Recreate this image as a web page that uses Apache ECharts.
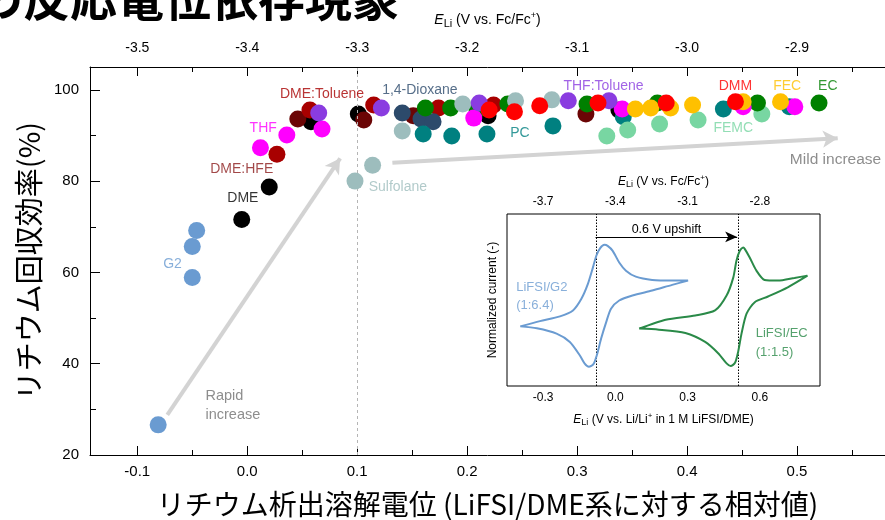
<!DOCTYPE html>
<html>
<head>
<meta charset="utf-8">
<style>
  html, body { margin: 0; padding: 0; background: #fff; }
  #main { width: 885px; height: 520px; }
</style>
<script src="https://cdn.jsdelivr.net/npm/echarts@6.0.0/dist/echarts.min.js"></script>
</head>
<body>
<div id="main"></div>
<script>
// ---- axes of the main scatter plot ----
const xRange = [-0.143, 0.58];          // Li plating/stripping potential vs. LiFSI/DME (V)
const yRange = [20, 105];               // Li Coulombic efficiency (%)
const xTicks = [-0.1, 0.0, 0.1, 0.2, 0.3, 0.4, 0.5];
const xMinorTicks = [-0.05, 0.05, 0.15, 0.25, 0.35, 0.45, 0.55];
const fcOffset = -3.4;                  // E_Li vs. Fc/Fc+ = relative value - 3.4 V
const fcTicks = [-3.5, -3.4, -3.3, -3.2, -3.1, -3.0, -2.9];
const fcMinorTicks = [-3.45, -3.35, -3.25, -3.15, -3.05, -2.95, -2.85];
const yTicks = [20, 40, 60, 80, 100];
const yMinorTicks = [30, 50, 70, 90];

// ---- electrolytes: [relative potential (V), Coulombic efficiency (%)] ----
const g2         = [[-0.046, 69.2], [-0.05, 65.7], [-0.05, 58.9], [-0.081, 26.6]];
const dme        = [[-0.005, 71.6], [0.020, 78.7], [0.058, 93.0], [0.101, 94.7], [0.219, 94.3], [0.338, 95.6]];
const dmeToluene = [[0.046, 93.6], [0.106, 93.4], [0.151, 94.3], [0.308, 94.7]];
const dmeHfe     = [[0.027, 85.9], [0.057, 95.6], [0.115, 96.7], [0.174, 96.0], [0.224, 96.7]];
const dioxane    = [[0.141, 94.9], [0.158, 93.6], [0.169, 93.0]];
const pc         = [[0.160, 90.3], [0.186, 89.9], [0.218, 90.3], [0.278, 92.1], [0.342, 94.1], [0.433, 95.8], [0.493, 96.3]];
const femc       = [[0.327, 89.9], [0.346, 91.2], [0.375, 92.5], [0.410, 93.4], [0.468, 94.7]];
const ec         = [[0.162, 96.0], [0.185, 96.0], [0.209, 95.6], [0.237, 96.9], [0.309, 96.9], [0.373, 97.1], [0.464, 97.1], [0.520, 97.1]];
const sulfolane  = [[0.098, 80.0], [0.114, 83.5], [0.141, 91.0], [0.196, 96.9], [0.244, 97.6], [0.277, 97.8]];
const thf        = [[0.012, 87.3], [0.036, 90.1], [0.068, 91.4], [0.206, 93.8], [0.341, 95.8], [0.451, 96.3], [0.498, 96.3]];
const thfToluene = [[0.065, 94.9], [0.122, 96.0], [0.211, 97.1], [0.292, 97.6], [0.329, 97.6]];
const fec        = [[0.353, 95.8], [0.367, 96.0], [0.385, 96.0], [0.405, 96.7], [0.451, 97.4], [0.485, 97.4]];
const dmm        = [[0.220, 95.6], [0.243, 95.2], [0.266, 96.5], [0.319, 97.1], [0.381, 97.1], [0.444, 97.4]];

// ---- inset: cyclic voltammograms [E_Li vs. Li/Li+ in 1 M LiFSI/DME (V), normalized current] ----
const insetX = [-0.45, 0.85];
const insetY = [-1.5, 1.5];
const insetTicks = [-0.3, 0.0, 0.3, 0.6];
const insetMinorTicks = [-0.15, 0.15, 0.45, 0.75];
const insetFcTicks = [-3.7, -3.4, -3.1, -2.8];
const insetFcMinorTicks = [-3.55, -3.25, -2.95, -2.65];
const cvG2 = [
  [-0.395, -0.46], [-0.326, -0.494], [-0.244, -0.586], [-0.189, -0.732], [-0.148, -0.963],
  [-0.128, -1.106], [-0.110, -1.165], [-0.091, -1.118], [-0.077, -0.963], [-0.059, -0.673],
  [-0.038, -0.385], [-0.018, -0.153], [0.016, -0.009], [0.071, 0.078], [0.153, 0.165],
  [0.236, 0.264], [0.302, 0.338], [0.236, 0.338], [0.153, 0.350], [0.085, 0.407],
  [0.044, 0.512], [0.016, 0.655], [-0.011, 0.858], [-0.032, 0.945], [-0.045, 0.962],
  [-0.063, 0.905], [-0.079, 0.772], [-0.093, 0.569], [-0.114, 0.281], [-0.141, 0.021],
  [-0.176, -0.182], [-0.230, -0.286], [-0.313, -0.368], [-0.395, -0.46]
];
const cvEC = [
  [0.099, -0.499], [0.181, -0.517], [0.291, -0.576], [0.373, -0.732], [0.428, -0.933],
  [0.462, -1.106], [0.479, -1.153], [0.497, -1.096], [0.510, -0.905], [0.524, -0.586],
  [0.545, -0.239], [0.579, -0.038], [0.634, 0.061], [0.716, 0.222], [0.798, 0.425],
  [0.744, 0.385], [0.675, 0.338], [0.620, 0.350], [0.586, 0.512], [0.558, 0.742],
  [0.538, 0.888], [0.531, 0.916], [0.517, 0.858], [0.503, 0.685], [0.490, 0.395],
  [0.462, 0.078], [0.414, -0.182], [0.332, -0.269], [0.209, -0.343], [0.099, -0.499]
];
const cvPeakG2 = -0.082;   // onset marker of LiFSI/G2
const cvPeakEC = 0.506;    // onset marker of LiFSI/EC

const SANS = '"Liberation Sans", Arial, sans-serif';
const NARROW = '"Liberation Sans Narrow", "Liberation Sans", Arial, sans-serif';
const JP = '"Noto Sans CJK JP", sans-serif';

const electrolytes = [
  { name: 'DME', data: dme, color: '#000000' },
  { name: 'DME:Toluene', data: dmeToluene, color: '#6b0505' },
  { name: 'DME:HFE', data: dmeHfe, color: '#a80000' },
  { name: '1,4-Dioxane', data: dioxane, color: '#2c4a6b' },
  { name: 'PC', data: pc, color: '#008080' },
  { name: 'FEMC', data: femc, color: '#78d6a2' },
  { name: 'EC', data: ec, color: '#008000' },
  { name: 'Sulfolane', data: sulfolane, color: '#9dbdbd' },
  { name: 'THF', data: thf, color: '#ff00ff' },
  { name: 'THF:Toluene', data: thfToluene, color: '#8a3ce0' },
  { name: 'FEC', data: fec, color: '#ffc000' },
  { name: 'DMM', data: dmm, color: '#ff0000' },
  { name: 'G2', data: g2, color: '#6a9bd1' }
];

// Series labels placed in data space
const tags = [
  { text: 'G2', at: [-0.068, 61.8], color: '#6a9bd1' },
  { text: 'DME', at: [-0.004, 76.3], color: '#000000' },
  { text: 'DME:HFE', at: [-0.005, 82.6], color: '#8b1a1a' },
  { text: 'THF', at: [0.0145, 91.6], color: '#ff00ff' },
  { text: 'DME:Toluene', at: [0.068, 99.1], color: '#a80000' },
  { text: '1,4-Dioxane', at: [0.157, 100.0], color: '#2c4a6b' },
  { text: 'PC', at: [0.248, 90.5], color: '#008080' },
  { text: 'Sulfolane', at: [0.137, 78.7], color: '#9dbdbd' },
  { text: 'THF:Toluene', at: [0.324, 100.7], color: '#8a3ce0' },
  { text: 'DMM', at: [0.444, 100.7], color: '#ff0000' },
  { text: 'FEC', at: [0.491, 100.7], color: '#ffc000' },
  { text: 'EC', at: [0.528, 100.7], color: '#008000' },
  { text: 'FEMC', at: [0.442, 91.6], color: '#78d6a2' }
];

const eliRich = {
  e: { fontStyle: 'italic', fontFamily: SANS, fontSize: 14, color: '#000' },
  s: { fontFamily: SANS, fontSize: 11, color: '#000', padding: [7, 0, 0, 0] },
  p: { fontFamily: SANS, fontSize: 9, color: '#000', padding: [0, 0, 8, 0] }
};
const eliRichSmall = {
  e: { fontStyle: 'italic', fontFamily: SANS, fontSize: 12, color: '#000' },
  s: { fontFamily: SANS, fontSize: 9, color: '#000', padding: [6, 0, 0, 0] },
  p: { fontFamily: SANS, fontSize: 8, color: '#000', padding: [0, 0, 7, 0] }
};

function tickAxis(opts) {
  return Object.assign({
    type: 'value',
    splitLine: { show: false },
    axisLine: { show: false, onZero: false },
    axisLabel: { show: false },
    axisTick: { show: false }
  }, opts);
}

const chart = echarts.init(document.getElementById('main'), null, { renderer: 'canvas' });

const option = {
  animation: false,
  backgroundColor: '#ffffff',
  grid: [
    { left: 90, right: 0, top: 67, bottom: 65, outerBoundsMode: 'none' },
    { left: 507, top: 214, width: 313, height: 172, show: true, backgroundColor: '#ffffff',
      borderColor: '#000', borderWidth: 1, outerBoundsMode: 'none', z: 5 }
  ],
  xAxis: [
    // 0: main, bottom
    tickAxis({
      gridIndex: 0, position: 'bottom', min: xRange[0], max: xRange[1],
      axisLine: { show: true, onZero: false, lineStyle: { color: '#000', width: 1 } },
      axisTick: { show: true, inside: true, length: 9, customValues: xTicks, lineStyle: { color: '#000' } },
      axisLabel: { show: true, customValues: xTicks, margin: 9, fontFamily: NARROW, fontSize: 15, color: '#000',
        formatter: v => v.toFixed(1) },
      name: 'リチウム析出溶解電位 (LiFSI/DME系に対する相対値)', nameLocation: 'middle', nameGap: 35,
      nameTextStyle: { fontFamily: JP, fontSize: 28, color: '#000' }
    }),
    // 1: main, top (vs. Fc/Fc+)
    tickAxis({
      gridIndex: 0, position: 'top', min: xRange[0] + fcOffset, max: xRange[1] + fcOffset,
      axisLine: { show: true, onZero: false, lineStyle: { color: '#000', width: 1 } },
      axisTick: { show: true, inside: true, length: 9, customValues: fcTicks, lineStyle: { color: '#000' } },
      axisLabel: { show: true, customValues: fcTicks, margin: 12, fontFamily: SANS, fontSize: 14, color: '#000',
        formatter: v => v.toFixed(1) },
      name: '{e|E}{s|Li} (V vs. Fc/Fc{p|+})', nameLocation: 'middle', nameGap: 38,
      nameTextStyle: { fontFamily: SANS, fontSize: 14, color: '#000', rich: eliRich }
    }),
    // 2, 3: main minor ticks
    tickAxis({ gridIndex: 0, position: 'bottom', min: xRange[0], max: xRange[1],
      axisTick: { show: true, inside: true, length: 5, customValues: xMinorTicks, lineStyle: { color: '#000' } } }),
    tickAxis({ gridIndex: 0, position: 'top', min: xRange[0] + fcOffset, max: xRange[1] + fcOffset,
      axisTick: { show: true, inside: true, length: 5, customValues: fcMinorTicks, lineStyle: { color: '#000' } } }),
    // 4: inset, bottom
    tickAxis({
      gridIndex: 1, position: 'bottom', min: insetX[0], max: insetX[1],
      axisTick: { show: true, inside: true, length: 6, customValues: insetTicks, lineStyle: { color: '#000' } },
      axisLabel: { show: true, customValues: insetTicks, margin: 6, fontFamily: SANS, fontSize: 12, color: '#000',
        formatter: v => v.toFixed(1) },
      name: '{e|E}{s|Li} (V vs. Li/Li{p|+} in 1 M LiFSI/DME)', nameLocation: 'middle', nameGap: 26,
      nameTextStyle: { fontFamily: SANS, fontSize: 12, color: '#000', rich: eliRichSmall }
    }),
    // 5: inset, top
    tickAxis({
      gridIndex: 1, position: 'top', min: insetX[0] + fcOffset, max: insetX[1] + fcOffset,
      axisTick: { show: true, inside: true, length: 6, customValues: insetFcTicks, lineStyle: { color: '#000' } },
      axisLabel: { show: true, customValues: insetFcTicks, margin: 6, fontFamily: SANS, fontSize: 12, color: '#000',
        formatter: v => v.toFixed(1) },
      name: '{e|E}{s|Li} (V vs. Fc/Fc{p|+})', nameLocation: 'middle', nameGap: 25,
      nameTextStyle: { fontFamily: SANS, fontSize: 12, color: '#000', rich: eliRichSmall }
    }),
    // 6, 7: inset minor ticks
    tickAxis({ gridIndex: 1, position: 'bottom', min: insetX[0], max: insetX[1],
      axisTick: { show: true, inside: true, length: 3, customValues: insetMinorTicks, lineStyle: { color: '#000' } } }),
    tickAxis({ gridIndex: 1, position: 'top', min: insetX[0] + fcOffset, max: insetX[1] + fcOffset,
      axisTick: { show: true, inside: true, length: 3, customValues: insetFcMinorTicks, lineStyle: { color: '#000' } } })
  ],
  yAxis: [
    // 0: main efficiency axis
    tickAxis({
      gridIndex: 0, position: 'left', min: yRange[0], max: yRange[1],
      axisLine: { show: true, onZero: false, lineStyle: { color: '#000', width: 1 } },
      axisTick: { show: true, inside: true, length: 10, customValues: yTicks, lineStyle: { color: '#000' } },
      axisLabel: { show: true, customValues: yTicks, margin: 11, fontFamily: SANS, fontSize: 15, color: '#000' },
      name: 'リチウム回収効率(%)', nameLocation: 'middle', nameGap: 42,
      nameTextStyle: { fontFamily: JP, fontSize: 29, color: '#000' }
    }),
    // 1: main minor ticks
    tickAxis({ gridIndex: 0, position: 'left', min: yRange[0], max: yRange[1],
      axisTick: { show: true, inside: true, length: 6, customValues: yMinorTicks, lineStyle: { color: '#000' } } }),
    // 2: inset current axis
    tickAxis({
      gridIndex: 1, position: 'left', min: insetY[0], max: insetY[1],
      name: 'Normalized current (-)', nameLocation: 'middle', nameGap: 8,
      nameTextStyle: { fontFamily: SANS, fontSize: 12, color: '#000' }
    })
  ],
  series: [
    // guide line, trend arrows and free text of the main plot
    {
      type: 'scatter', xAxisIndex: 0, yAxisIndex: 0, silent: true, z: 1,
      symbolSize: 1, itemStyle: { color: 'transparent' },
      data: [
        { value: [-0.038, 30.9], label: { show: true, position: 'inside', align: 'left',
          formatter: 'Rapid\nincrease', color: '#707070', fontFamily: SANS, fontSize: 14.5, lineHeight: 19 } },
        { value: [0.535, 84.6], label: { show: true, position: 'inside',
          formatter: 'Mild increase', color: '#707070', fontFamily: SANS, fontSize: 15.5 } }
      ],
      markLine: {
        silent: true, animation: false,
        label: { show: false },
        data: [
          [{ coord: [0.1, yRange[0]], symbol: 'none', lineStyle: { color: '#b5b5b5', width: 1, type: [3, 3] } },
           { coord: [0.1, yRange[1]], symbol: 'none' }],
          [{ coord: [-0.0727, 28.8], symbol: 'none', lineStyle: { color: '#d3d3d3', width: 4, type: 'solid' } },
           { coord: [0.0845, 85.0], symbol: 'arrow', symbolSize: [13, 15] }],
          [{ coord: [0.132, 84.0], symbol: 'none', lineStyle: { color: '#d3d3d3', width: 4, type: 'solid' } },
           { coord: [0.537, 89.4], symbol: 'arrow', symbolSize: [13, 15] }]
        ]
      }
    },
    ...electrolytes.map((s, i) => ({
      name: s.name, type: 'scatter', xAxisIndex: 0, yAxisIndex: 0, z: 2 + i,
      symbol: 'circle', symbolSize: 17,
      itemStyle: { color: s.color, opacity: 1 },
      data: s.data
    })),
    {
      type: 'scatter', xAxisIndex: 0, yAxisIndex: 0, silent: true, z: 30,
      symbolSize: 1, itemStyle: { color: 'transparent' },
      data: tags.map(t => ({
        value: t.at,
        label: { show: true, position: 'inside', formatter: t.text, color: t.color,
          fontFamily: SANS, fontSize: 14 }
      }))
    },
    // inset voltammograms
    {
      name: 'LiFSI/G2', type: 'line', xAxisIndex: 4, yAxisIndex: 2, z: 10,
      showSymbol: false, symbol: 'none', smooth: 0.25,
      lineStyle: { color: '#6a9bd1', width: 2 },
      data: cvG2,
      markLine: {
        silent: true, animation: false, symbol: ['none', 'none'],
        label: { show: false },
        lineStyle: { color: '#000', width: 1, type: [1.5, 1.5] },
        data: [{ xAxis: cvPeakG2 }, { xAxis: cvPeakEC }]
      }
    },
    {
      name: 'LiFSI/EC', type: 'line', xAxisIndex: 4, yAxisIndex: 2, z: 10,
      showSymbol: false, symbol: 'none', smooth: 0.25,
      lineStyle: { color: '#2a8a48', width: 2 },
      data: cvEC,
      markLine: {
        silent: true, animation: false,
        data: [[
          { coord: [cvPeakG2, 1.1], symbol: 'none', lineStyle: { color: '#000', width: 1, type: 'solid' },
            label: { show: true, position: 'middle', formatter: '0.6 V upshift', color: '#000',
              fontFamily: SANS, fontSize: 12.5, distance: 1 } },
          { coord: [cvPeakEC, 1.1], symbol: 'arrow', symbolSize: [8, 12] }
        ]]
      }
    },
    {
      type: 'scatter', xAxisIndex: 4, yAxisIndex: 2, silent: true, z: 11,
      symbolSize: 1, itemStyle: { color: 'transparent' },
      data: [
        { value: [-0.412, 0.06], label: { show: true, position: 'inside', align: 'left',
          formatter: 'LiFSI/G2\n(1:6.4)', color: '#6a9bd1', fontFamily: SANS, fontSize: 13, lineHeight: 18 } },
        { value: [0.583, -0.74], label: { show: true, position: 'inside', align: 'left',
          formatter: 'LiFSI/EC\n(1:1.5)', color: '#2a8a48', fontFamily: SANS, fontSize: 13, lineHeight: 19 } }
      ]
    }
  ],
  graphic: [
    { type: 'text', left: -24, top: -25, z: 100,
      style: { text: 'の反応電位依存現象', font: 'bold 47px "Noto Sans CJK JP", sans-serif', fill: '#000' } }
  ]
};

chart.setOption(option);
</script>
</body>
</html>
